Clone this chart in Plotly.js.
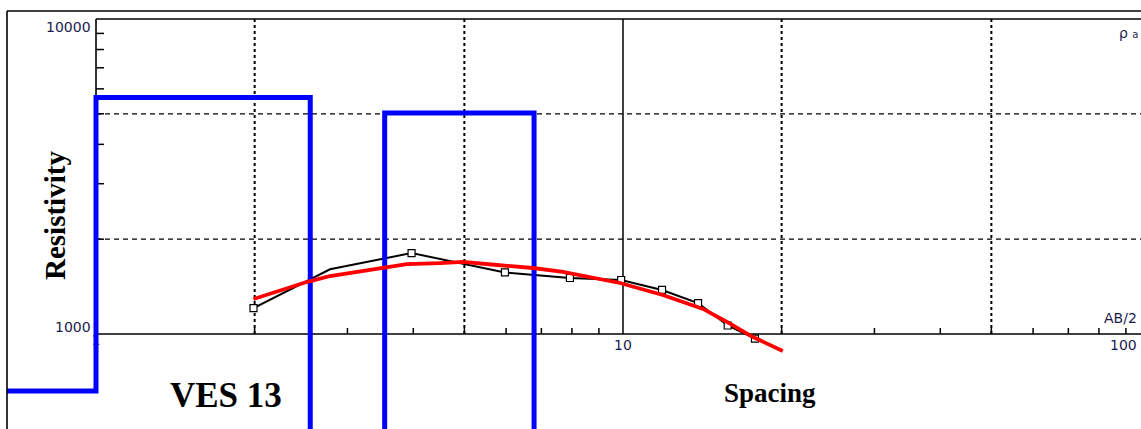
<!DOCTYPE html>
<html>
<head>
<meta charset="utf-8">
<script src="https://cdn.plot.ly/plotly-3.0.1.min.js"></script>
<style>
  html, body { margin: 0; padding: 0; background: #ffffff; }
  #chart { width: 1141px; height: 429px; }
</style>
</head>
<body>
<div id="chart"></div>
<script>
// ---- data ----
// field (measured) apparent resistivity
const fieldSpacing = [1.99, 3.97, 5.97, 7.93, 9.92, 11.86, 13.88, 15.8, 17.8];
const fieldRho     = [1209, 1807, 1568, 1506, 1484, 1380, 1254, 1064, 967];
// field curve as drawn (includes one bend without a marker)
const fieldLineSpacing = [1.99, 2.78, 3.97, 5.97, 7.93, 9.92, 11.86, 13.88, 15.8, 17.8];
const fieldLineRho     = [1209, 1605, 1807, 1568, 1506, 1484, 1380, 1254, 1064, 967];
// calculated (model) curve
const calcSpacing = [1.99, 2.51, 2.78, 3.50, 3.89, 4.50, 4.97, 5.77, 6.75, 7.69, 8.93, 9.87, 11.9, 14.19, 15.75, 17.65, 20.1];
const calcRho     = [1291, 1462, 1528, 1620, 1667, 1680, 1693, 1656, 1620, 1574, 1506, 1452, 1330, 1201, 1092, 978, 883];
// layered model: layer bottoms (depth) and layer resistivities
const layerStart  = 0.5;
const layerBottom = [1, 2.55, 3.53, 6.78];
const layerRho    = [659, 5633, 200, 5030, 150];
const layerEnd    = 200;

// axis furniture values
const xMajor     = [10];
const xDotGrid   = [2, 5, 20, 50];
const xMinorTick = [2, 3, 4, 5, 6, 7, 8, 9, 20, 30, 40, 50, 60, 70, 80, 90];
const yDashGrid  = [2000, 5000];
const yMinorTick = [2000, 3000, 4000, 5000, 6000, 7000, 8000, 9000];
const xLabelVals = [1, 10, 100];
const xLabelText = ['1', '10', '100'];
const yLabelVals = [1000, 10000];
const yLabelText = ['1000', '10000'];
const xMin = 1, xMax = 100, yMin = 1000, yMax = 10000;

// build step line for the model
const modelX = [layerStart], modelY = [layerRho[0]];
layerBottom.forEach((d, i) => {
  modelX.push(d); modelY.push(layerRho[i]);
  modelX.push(d); modelY.push(layerRho[i + 1]);
});
modelX.push(layerEnd); modelY.push(layerRho[layerRho.length - 1]);

const labelFont = {family: 'DejaVu Sans, Verdana, sans-serif', size: 14, color: '#1c1c4c'};

const traces = [
  {x: [xLabelVals[0]], y: [yMin], mode: 'text', text: [xLabelText[0]],
   textposition: 'bottom center', textfont: labelFont, hoverinfo: 'skip', showlegend: false},
  {x: fieldLineSpacing, y: fieldLineRho, mode: 'lines',
   line: {color: '#000000', width: 2}, hoverinfo: 'skip', showlegend: false},
  {x: fieldSpacing, y: fieldRho, mode: 'markers',
   marker: {symbol: 'square', size: 7, color: '#ffffff', line: {color: '#000000', width: 1.2}},
   showlegend: false},
  {x: modelX, y: modelY, mode: 'lines',
   line: {color: '#0000ff', width: 5}, showlegend: false},
  {x: calcSpacing, y: calcRho, mode: 'lines',
   line: {color: '#ff0000', width: 3.8}, showlegend: false}
];

const shapes = [];
// dotted vertical grid
xDotGrid.forEach(v => shapes.push({type: 'line', xref: 'x', yref: 'y', x0: v, x1: v, y0: yMin, y1: yMax,
  layer: 'below', line: {color: '#000000', width: 2, dash: '3px,3px'}}));
// solid vertical at 10
xMajor.forEach(v => shapes.push({type: 'line', xref: 'x', yref: 'y', x0: v, x1: v, y0: yMin, y1: yMax,
  layer: 'below', line: {color: '#000000', width: 1.5}}));
// dashed horizontal grid
yDashGrid.forEach(v => shapes.push({type: 'line', xref: 'x', yref: 'y', x0: xMin, x1: xMax * 2, y0: v, y1: v,
  layer: 'below', line: {color: '#000000', width: 1.2, dash: '5px,4px'}}));
// x ticks (upward from the 1000 line)
xMinorTick.forEach(v => shapes.push({type: 'line', xref: 'x', yref: 'y', ysizemode: 'pixel', yanchor: yMin,
  x0: v, x1: v, y0: 0, y1: 6, layer: 'below', line: {color: '#000000', width: 1.5}}));
// y ticks (rightward from the x=1 line)
yMinorTick.forEach(v => shapes.push({type: 'line', xref: 'x', yref: 'y', xsizemode: 'pixel', xanchor: xMin,
  x0: 0, x1: 8, y0: v, y1: v, layer: 'below', line: {color: '#000000', width: 1.5}}));
// axis lines / inner frame
shapes.push({type: 'line', xref: 'x', yref: 'y', x0: xMin, x1: xMax * 2, y0: yMin, y1: yMin,
  layer: 'below', line: {color: '#000000', width: 1.6}});
shapes.push({type: 'line', xref: 'x', yref: 'y', x0: xMin, x1: xMax * 2, y0: yMax, y1: yMax,
  layer: 'below', line: {color: '#000000', width: 1.6}});
shapes.push({type: 'line', xref: 'x', yref: 'y', x0: xMin, x1: xMin, y0: yMin, y1: yMax,
  layer: 'below', line: {color: '#000000', width: 1.6}});
// outer frame
shapes.push({type: 'line', xref: 'paper', yref: 'paper', x0: 0, x1: 1, y0: 1, y1: 1,
  line: {color: '#000000', width: 1.6}});
shapes.push({type: 'line', xref: 'paper', yref: 'paper', x0: 0, x1: 0, y0: 0, y1: 1,
  line: {color: '#000000', width: 1.6}});

const L = Math.log10;
const annotations = [
  {x: L(xLabelVals[1]), y: L(yMin), xref: 'x', yref: 'y', text: xLabelText[1], showarrow: false,
   xanchor: 'center', yanchor: 'top', yshift: -1, font: labelFont},
  {x: 1, y: L(yMin), xref: 'paper', yref: 'y', text: xLabelText[2], showarrow: false,
   xanchor: 'right', yanchor: 'top', yshift: -1, xshift: -2, font: labelFont},
  {x: L(xMin), y: L(yLabelVals[0]), xref: 'x', yref: 'y', text: yLabelText[0], showarrow: false,
   xanchor: 'right', yanchor: 'middle', xshift: -3, yshift: 7, font: labelFont},
  {x: L(xMin), y: L(yLabelVals[1]), xref: 'x', yref: 'y', text: yLabelText[1], showarrow: false,
   xanchor: 'right', yanchor: 'middle', xshift: -3, yshift: -8, font: labelFont},
  {x: 1, y: L(yMin), xref: 'paper', yref: 'y', text: 'AB/2', showarrow: false,
   xanchor: 'left', yanchor: 'middle', xshift: -39, yshift: 16, font: labelFont},
  {x: 1, y: L(yMax), xref: 'paper', yref: 'y', text: 'ρ <span style="font-size:10px">a</span>', showarrow: false,
   xanchor: 'left', yanchor: 'middle', xshift: -24, yshift: -14, font: labelFont},
  {x: 0, y: 0.5096, xref: 'paper', yref: 'paper', text: '<b>Resistivity</b>', showarrow: false,
   xanchor: 'center', yanchor: 'middle', xshift: 48, textangle: -90,
   font: {family: 'Liberation Serif, Times New Roman, serif', size: 29, color: '#000000'}},
  {x: 0.1931, y: 0.079, xref: 'paper', yref: 'paper', text: '<b>VES 13</b>', showarrow: false,
   xanchor: 'center', yanchor: 'middle',
   font: {family: 'Liberation Serif, Times New Roman, serif', size: 35, color: '#000000'}},
  {x: 0.6728, y: 0.086, xref: 'paper', yref: 'paper', text: '<b>Spacing</b>', showarrow: false,
   xanchor: 'center', yanchor: 'middle',
   font: {family: 'Liberation Serif, Times New Roman, serif', size: 27, color: '#000000'}}
];

const layout = {
  width: 1141, height: 429,
  margin: {l: 7, r: 0, t: 11, b: 0, pad: 0},
  paper_bgcolor: '#ffffff', plot_bgcolor: '#ffffff',
  showlegend: false,
  xaxis: {type: 'log', range: [(7 - 96) / 527, (1141 - 96) / 527], visible: false, fixedrange: true},
  yaxis: {type: 'log', range: [3 - 95 / 315, 3 + 323 / 315], visible: false, fixedrange: true},
  shapes: shapes,
  annotations: annotations
};

Plotly.newPlot('chart', traces, layout, {displayModeBar: false, staticPlot: true});
</script>
</body>
</html>
